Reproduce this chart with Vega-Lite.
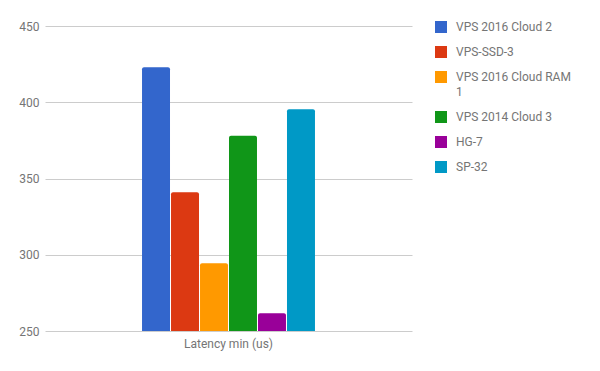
{
  "$schema": "https://vega.github.io/schema/vega-lite/v6.json",
  "width": 367,
  "height": 305,
  "autosize": "none",
  "padding": {"left": 45, "top": 26, "right": 188, "bottom": 40},
  "config": {"font": "Roboto", "view": {"stroke": null}},
  "data": {
    "values": [
      {"metric": "Latency min (us)", "server": "VPS 2016 Cloud 2", "latency": 423},
      {"metric": "Latency min (us)", "server": "VPS-SSD-3", "latency": 341},
      {"metric": "Latency min (us)", "server": "VPS 2016 Cloud RAM 1", "latency": 294.5},
      {"metric": "Latency min (us)", "server": "VPS 2014 Cloud 3", "latency": 378},
      {"metric": "Latency min (us)", "server": "HG-7", "latency": 261.6},
      {"metric": "Latency min (us)", "server": "SP-32", "latency": 395.4}
    ]
  },
  "mark": {"type": "bar", "cornerRadiusTopLeft": 2, "cornerRadiusTopRight": 2},
  "encoding": {
    "x": {
      "field": "metric",
      "type": "nominal",
      "scale": {"paddingOuter": 0.561, "paddingInner": 0},
      "axis": {"title": null, "labelAngle": 0, "ticks": false, "domain": false, "labelColor": "#757575", "labelFontSize": 12, "labelPadding": 7}
    },
    "xOffset": {
      "field": "server",
      "type": "nominal",
      "sort": ["VPS 2016 Cloud 2", "VPS-SSD-3", "VPS 2016 Cloud RAM 1", "VPS 2014 Cloud 3", "HG-7", "SP-32"],
      "scale": {"paddingInner": 0.035, "paddingOuter": 0}
    },
    "y": {
      "field": "latency",
      "type": "quantitative",
      "scale": {"domain": [250, 450], "zero": false, "nice": false},
      "axis": {"title": null, "values": [250, 300, 350, 400, 450], "ticks": false, "domain": false, "gridColor": "#cccccc", "labelColor": "#757575", "labelFontSize": 12, "labelPadding": 6}
    },
    "y2": {"datum": 250},
    "color": {
      "field": "server",
      "type": "nominal",
      "sort": ["VPS 2016 Cloud 2", "VPS-SSD-3", "VPS 2016 Cloud RAM 1", "VPS 2014 Cloud 3", "HG-7", "SP-32"],
      "scale": {
        "domain": ["VPS 2016 Cloud 2", "VPS-SSD-3", "VPS 2016 Cloud RAM 1", "VPS 2014 Cloud 3", "HG-7", "SP-32"],
        "range": ["#3366cc", "#dc3912", "#ff9900", "#109618", "#990099", "#0099c6"]
      },
      "legend": {
        "orient": "none",
        "legendX": 390,
        "legendY": -5,
        "title": null,
        "padding": 0,
        "symbolType": "square",
        "symbolSize": 144,
        "symbolStrokeWidth": 0,
        "symbolOpacity": 1,
        "labelFontSize": 12,
        "labelColor": "#757575",
        "labelOffset": 9,
        "rowPadding": 13,
        "labelLimit": 200,
        "labelExpr": "datum.label == 'VPS 2016 Cloud RAM 1' ? ['VPS 2016 Cloud RAM', '1'] : datum.label",
        "encode": {"labels": {"update": {"lineHeight": {"value": 15}}}}
      }
    }
  }
}
